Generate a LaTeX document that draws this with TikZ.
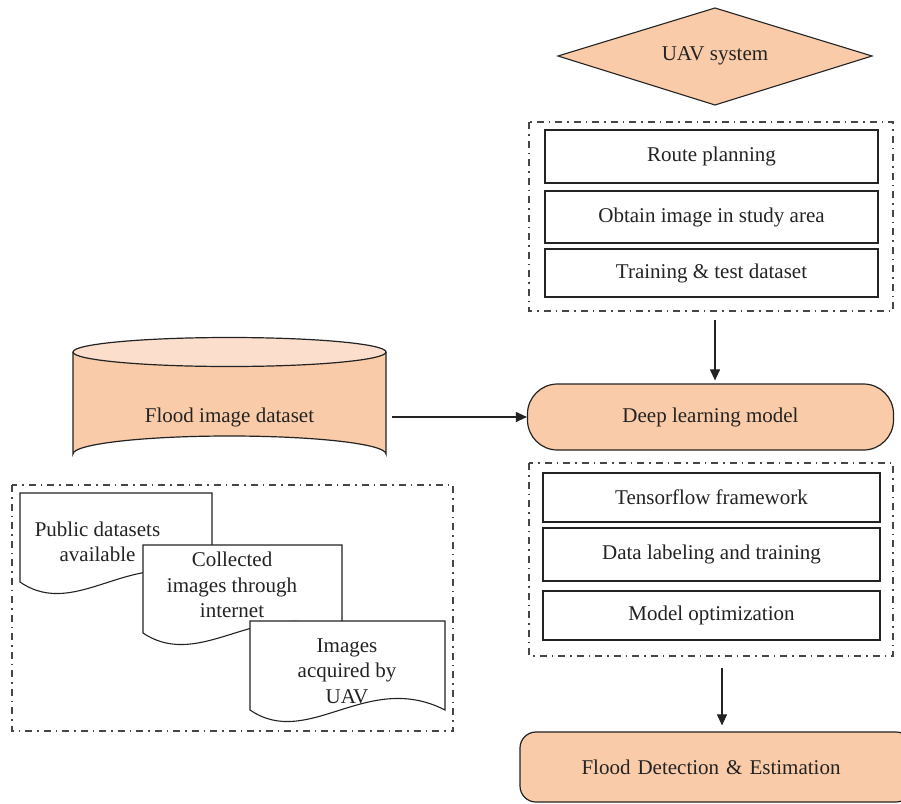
\documentclass[tikz,border=0pt]{standalone}
\usepackage{fontspec}
\setmainfont{Liberation Serif}
\usetikzlibrary{arrows.meta,shapes.geometric}
\definecolor{peach}{RGB}{249,203,168}
\definecolor{lightpeach}{RGB}{252,222,205}
\definecolor{ink}{RGB}{35,35,35}
\definecolor{dashgray}{RGB}{70,70,70}
\tikzset{
  txt/.style={font=\fontsize{21}{25.5}\selectfont, text=ink, align=center},
  stepbox/.style={txt, draw=ink, line width=1.2pt, fill=white, rectangle, inner sep=0pt, minimum width=333pt},
  groupbox/.style={draw=dashgray, line width=1.3pt, dash pattern=on 7pt off 5pt on 1.5pt off 5pt},
  docshape/.style={draw=ink, line width=1.1pt, fill=white},
  arr/.style={draw=ink, line width=1.1pt, -{Triangle[length=11pt,width=10pt]}},
}
\begin{document}
\begin{tikzpicture}[x=1pt,y=-1pt]
\useasboundingbox (0,0) rectangle (901,803);
\fill[white] (0,0) rectangle (901,803);
\clip (0,0) rectangle (901,803);

% UAV system diamond
\fill[peach, draw=ink, line width=1.1pt] (558,56) -- (715,8) -- (872,56) -- (715,105) -- cycle;
\node[txt] (uav) at (715,56) {UAV system};

% group 1
\draw[groupbox] (529,122) rectangle (893,311);
\node[stepbox, minimum height=53pt] (route) at (711.5,156.5) {Route planning};
\node[stepbox, minimum height=52pt] (obtain) at (711.5,217) {Obtain image in study area};
\node[stepbox, minimum height=48pt] (train) at (711.5,273) {Training \& test dataset};
\coordinate (g1b) at (715,311);

% Deep learning model
\node[txt, draw=ink, line width=1.2pt, fill=peach, rounded corners=30pt, minimum width=366pt, minimum height=66pt, inner sep=0pt] (dl) at (710.5,417) {Deep learning model};

% Cylinder
\fill[peach] (73,352) -- (73,454) arc[start angle=180, end angle=360, x radius=156.5, y radius=18] -- (386,352) -- cycle;
\draw[ink, line width=1.2pt] (73,352) -- (73,454) arc[start angle=180, end angle=360, x radius=156.5, y radius=18] -- (386,352);
\draw[ink, line width=1.2pt, fill=lightpeach] (229.5,352) ellipse[x radius=156.5, y radius=14.5];
\node[txt, minimum width=313pt, minimum height=100pt, inner sep=0pt] (db) at (229.5,417) {Flood image dataset};

% group 2 (documents)
\draw[groupbox] (12,485) rectangle (453,731);
\draw[docshape] (20,493) -- (212,493) -- (212,582) .. controls (135,542) and (78,622) .. (20,582) -- cycle;
\draw[docshape] (143,545) -- (342,545) -- (342,633) .. controls (262,593) and (203,673) .. (143,633) -- cycle;
\draw[docshape] (250,621) -- (445,621) -- (445,710) .. controls (367,670) and (308.5,750) .. (250,710) -- cycle;
\node[txt] (pub) at (97.5,542) {Public datasets\\available};
\node[txt] (col) at (232,585) {Collected\\images through\\internet};
\node[txt] (acq) at (347,671) {Images\\acquired by\\UAV};

% group 3
\draw[groupbox] (529,463) rectangle (893,656);
\node[stepbox, minimum width=337pt, minimum height=49pt] (tf) at (711.5,497.5) {Tensorflow framework};
\node[stepbox, minimum width=337pt, minimum height=53pt] (lab) at (711.5,554.5) {Data labeling and training};
\node[stepbox, minimum width=337pt, minimum height=49pt] (opt) at (711.5,615.5) {Model optimization};
\coordinate (g3b) at (722,656);

% Flood detection
\node[txt, draw=ink, line width=1.2pt, fill=peach, rounded corners=16pt, minimum width=392pt, minimum height=70pt, inner sep=0pt, text width=392pt, align=center] (fde) at (716,767) {\hspace*{-10pt}Flood Detection \& Estimation};

% connectors
\draw[arr, shorten <=9pt, shorten >=3pt] (g1b) -- (g1b |- dl.north);
\draw[arr, shorten <=6pt] (db.east) -- (dl.west |- db.east);
\draw[arr, shorten <=12pt, shorten >=6pt] (g3b) -- (g3b |- fde.north);
\end{tikzpicture}
\end{document}
